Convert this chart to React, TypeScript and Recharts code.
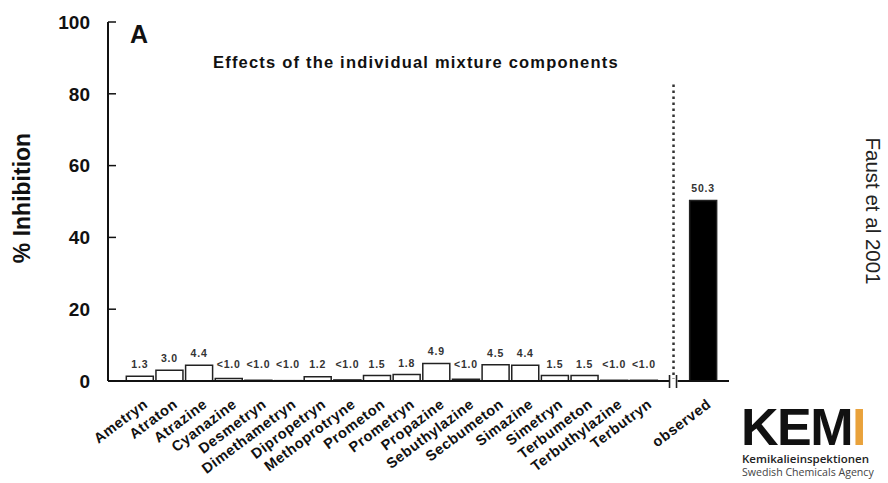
import { Bar, BarChart, Cell, LabelList, ReferenceDot, ReferenceLine, XAxis, YAxis } from "recharts";

// herbicide components, then an empty slot for the axis break, then the observed mixture effect
const compounds = [
  "Ametryn", "Atraton", "Atrazine", "Cyanazine", "Desmetryn", "Dimethametryn",
  "Dipropetryn", "Methoprotryne", "Prometon", "Prometryn", "Propazine", "Sebuthylazine",
  "Secbumeton", "Simazine", "Simetryn", "Terbumeton", "Terbuthylazine", "Terbutryn",
  " ", "observed",
];
const inhibition = [
  1.3, 3.0, 4.4, 0.7, 0.2, 0.1, 1.2, 0.3, 1.5, 1.8, 4.9, 0.5,
  4.5, 4.4, 1.5, 1.5, 0.2, 0.2, null, 50.3,
];
const valueLabels = [
  "1.3", "3.0", "4.4", "<1.0", "<1.0", "<1.0", "1.2", "<1.0", "1.5", "1.8", "4.9", "<1.0",
  "4.5", "4.4", "1.5", "1.5", "<1.0", "<1.0", "", "50.3",
];
const yTicks = [0, 20, 40, 60, 80, 100];

const data = compounds.map((name, i) => ({ name, value: inhibition[i], label: valueLabels[i] }));

const FONT = "'Liberation Sans', Arial, sans-serif";

const ValueLabel = (props: any) => {
  const { x, y, width, height, value } = props;
  if (!value) return null;
  const top = Math.min(y, y + height - 5);
  return (
    <text x={x + width / 2} y={top - 8} textAnchor="middle" fontFamily={FONT} fontSize={10.5}
      fontWeight="bold" letterSpacing={0.8} fill="#333">
      {value}
    </text>
  );
};

const CompoundTick = (props: any) => {
  const { x, y, payload } = props;
  if (!payload.value.trim()) return null;
  const tx = x + 9;
  const ty = y + 25;
  return (
    <text x={tx} y={ty} transform={`rotate(-37, ${tx}, ${ty})`} textAnchor="end" fontFamily={FONT}
      fontSize={14.5} fontWeight="bold" letterSpacing={0.6} fill="#111">
      {payload.value}
    </text>
  );
};

// white notch with two short strokes, marking the break in the x axis
const AxisBreak = (props: any) => {
  const { cx, cy } = props;
  return (
    <g>
      <rect x={cx - 4} y={cy - 2} width={8} height={4} fill="#fff" />
      <line x1={cx - 4} x2={cx - 4} y1={cy - 6} y2={cy + 7} stroke="#222" strokeWidth={1.6} />
      <line x1={cx + 3} x2={cx + 3} y1={cy - 6} y2={cy + 7} stroke="#222" strokeWidth={1.6} />
    </g>
  );
};

export default function App() {
  return (
    <div style={{ position: "absolute", left: 0, top: 0, width: 888, height: 483, background: "#fff" }}>
      <BarChart width={888} height={483} data={data} barCategoryGap={1.3}
        margin={{ top: 22, right: 159, bottom: 0, left: 0 }}>
        <XAxis dataKey="name" height={102} padding={{ left: 17, right: 11 }} tickLine={false}
          tickSize={0} tickMargin={0} interval={0} tick={<CompoundTick />}
          axisLine={{ stroke: "#111", strokeWidth: 2 }} />
        <YAxis domain={[0, 100]} ticks={yTicks} width={108} tickSize={-8} tickMargin={26}
          axisLine={{ stroke: "#111", strokeWidth: 2 }} tickLine={{ stroke: "#111", strokeWidth: 1.5 }}
          tick={{ fill: "#111", fontSize: 19, fontWeight: "bold", fontFamily: FONT }} />
        <Bar dataKey="value" stroke="#222" strokeWidth={1.5} isAnimationActive={false}>
          {data.map((d) => (
            <Cell key={d.name} fill={d.name === "observed" ? "#000" : "#fff"} />
          ))}
          <LabelList dataKey="label" content={<ValueLabel />} />
        </Bar>
        <ReferenceLine segment={[{ x: " ", y: 0 }, { x: " ", y: 83.6 }]} stroke="#333"
          strokeWidth={2.5} strokeDasharray="2.5 3.5" />
        <ReferenceDot x=" " y={0} shape={<AxisBreak />} />
      </BarChart>
      <svg width={888} height={483} style={{ position: "absolute", left: 0, top: 0, pointerEvents: "none" }}>
        <text x={130} y={43} fontFamily={FONT} fontSize={25} fontWeight="bold" fill="#111">A</text>
        <text x={213} y={68} fontFamily={FONT} fontSize={16.5} fontWeight="bold" letterSpacing={1.2}
          fill="#111">
          Effects of the individual mixture components
        </text>
        <text x={30} y={198} transform="rotate(-90, 30, 198)" textAnchor="middle" fontFamily={FONT}
          fontSize={23} fontWeight="bold" fill="#111">
          % Inhibition
        </text>
        <text x={866} y={211} transform="rotate(90, 866, 211)" textAnchor="middle" fontFamily={FONT}
          fontSize={20.5} fill="#222">
          Faust et al 2001
        </text>
        <text x={741} y={445} fontFamily={FONT} fontSize={52} fontWeight="bold" letterSpacing={-1.5}
          fill="#111">
          KEM<tspan fill="#E9A23B">I</tspan>
        </text>
        <text x={742} y={463} fontFamily="'Open Sans', sans-serif" fontSize={11.5} fontWeight={600}
          fill="#222">
          Kemikalieinspektionen
        </text>
        <text x={742} y={476} fontFamily="'Open Sans', sans-serif" fontSize={10.6} fill="#444">
          Swedish Chemicals Agency
        </text>
      </svg>
    </div>
  );
}
